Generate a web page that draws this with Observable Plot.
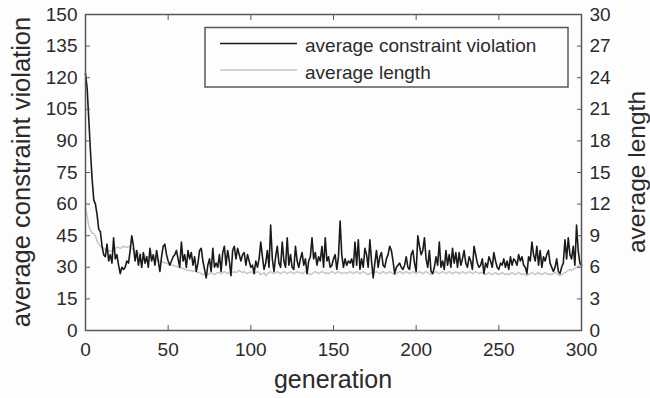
<!DOCTYPE html>
<html>
<head>
<meta charset="utf-8">
<script src="https://cdn.jsdelivr.net/npm/d3@7"></script>
<script src="https://cdn.jsdelivr.net/npm/@observablehq/plot@0.6"></script>
<style>
  html, body { margin: 0; padding: 0; background: #fdfdfd; }
  #chart { width: 650px; height: 398px; }
</style>
</head>
<body>
<div id="chart"></div>
<script>
// ---- data ----
const violationTicks = [0, 15, 30, 45, 60, 75, 90, 105, 120, 135, 150];
const lengthTicks = [0, 3, 6, 9, 12, 15, 18, 21, 24, 27, 30];
const generationTicks = [0, 50, 100, 150, 200, 250, 300];

// average constraint violation, generations 0..300 (left axis)
const violation = [
  122,115,100,85,72,62,60,55,48,47,40,
  36,35,41,33,36,32,44,34,36,31,
  27,30,29,30,33,32,38,45,40,33,
  38,31,36,30,37,32,35,30,39,33,
  36,31,38,33,28,35,40,41,36,33,
  31,33,35,36,38,34,30,42,33,36,
  30,38,34,37,31,35,28,32,38,39,
  33,29,25,31,34,28,39,30,32,30,
  36,28,37,40,31,38,33,26,38,40,
  34,39,36,33,36,37,31,36,33,30,
  31,27,33,30,34,42,35,29,32,38,
  30,50,34,28,35,40,32,30,42,33,
  30,44,31,36,30,29,40,33,30,34,
  37,31,34,27,33,35,44,34,37,31,
  35,33,40,30,44,33,35,30,31,34,
  36,29,35,52,36,30,34,31,33,32,
  34,30,42,31,43,29,34,30,39,36,
  30,43,33,25,32,38,30,35,37,31,
  30,34,36,40,38,33,27,30,31,32,
  30,29,31,35,30,29,36,38,32,28,
  45,40,36,38,44,34,30,38,28,27,
  30,35,31,42,30,33,29,38,31,36,
  30,39,32,37,30,37,31,34,38,32,
  30,35,33,29,40,36,32,30,31,34,
  27,32,30,35,33,30,37,33,30,29,
  32,31,34,30,33,29,35,31,34,33,
  31,36,33,35,31,30,27,35,33,42,
  36,33,40,31,38,30,35,33,36,38,
  32,30,28,30,34,28,27,30,32,43,
  34,44,36,34,40,31,50,38,32,31
];

// average length, generations 0..300 (right axis)
const avgLength = [
  11.6,10.9,9.9,9.5,9.3,9.2,9.0,8.5,8.2,8.0,7.9,
  7.8,7.7,7.6,7.6,7.5,7.6,7.7,7.8,7.9,7.9,
  7.8,7.9,8.0,7.9,7.9,8.0,7.9,7.8,7.6,7.5,
  7.4,7.3,7.3,7.2,7.2,7.1,7.0,7.0,6.9,6.9,
  6.8,6.8,6.7,6.6,6.6,6.5,6.5,6.4,6.4,6.3,
  6.3,6.2,6.2,6.1,6.1,6.0,6.0,5.9,5.9,5.8,
  5.8,5.7,5.7,5.7,5.6,5.7,5.6,5.5,5.5,5.4,
  5.3,5.3,5.4,5.3,5.4,5.5,5.4,5.3,5.4,5.5,
  5.5,5.4,5.5,5.6,5.5,5.4,5.5,5.6,5.5,5.6,
  5.5,5.6,5.7,5.6,5.5,5.6,5.5,5.4,5.5,5.6,
  5.5,5.4,5.5,5.6,5.5,5.3,5.4,5.5,5.2,5.4,
  5.5,5.6,5.5,5.4,5.5,5.6,5.5,5.4,5.5,5.6,
  5.5,5.4,5.5,5.6,5.5,5.4,5.5,5.6,5.5,5.5,
  5.4,5.5,5.6,5.5,5.4,5.3,5.4,5.5,5.6,5.5,
  5.4,5.5,5.6,5.5,5.4,5.5,5.4,5.5,5.6,5.5,
  5.4,5.5,5.6,5.5,5.4,5.5,5.5,5.4,5.5,5.6,
  5.5,5.4,5.5,5.6,5.5,5.4,5.5,5.6,5.5,5.4,
  5.3,5.4,5.5,5.4,5.5,5.6,5.5,5.4,5.5,5.6,
  5.5,5.4,5.5,5.6,5.5,5.4,5.3,5.4,5.5,5.6,
  5.5,5.4,5.5,5.6,5.5,5.4,5.5,5.6,5.5,5.4,
  5.5,5.6,5.5,5.4,5.5,5.6,5.5,5.4,5.3,5.4,
  5.5,5.6,5.5,5.4,5.5,5.6,5.5,5.4,5.5,5.6,
  5.5,5.4,5.5,5.6,5.5,5.4,5.5,5.6,5.5,5.4,
  5.5,5.6,5.5,5.4,5.5,5.6,5.5,5.4,5.5,5.5,
  5.4,5.3,5.4,5.5,5.4,5.3,5.4,5.5,5.4,5.3,
  5.4,5.5,5.4,5.3,5.4,5.3,5.4,5.5,5.4,5.3,
  5.4,5.5,5.4,5.3,5.4,5.3,5.2,5.3,5.4,5.5,
  5.4,5.3,5.4,5.5,5.4,5.3,5.4,5.5,5.4,5.3,
  5.4,5.3,5.4,5.5,5.4,5.3,5.2,5.3,5.4,5.5,
  5.6,5.7,5.8,5.7,5.8,5.9,6.0,6.1,6.2,6.3
];

const seriesNames = ["average constraint violation", "average length"];
const axisTitles = { x: "generation", yLeft: "average constraint violation", yRight: "average length" };

// ---- build ----
const generations = violation.map((_, i) => i);
const ratio = 150 / 30; // left-axis units per right-axis unit

const W = 650, H = 398;
const mL = 85, mR = 69, mT = 14, mB = 68;
const font = "'Liberation Sans', Arial, Helvetica, sans-serif";
const ink = "#2b2b2b";
const frameColor = "#595959";

const chart = Plot.plot({
  width: W, height: H,
  marginLeft: mL, marginRight: mR, marginTop: mT, marginBottom: mB,
  style: { fontFamily: font, fontSize: "19px", background: "#fdfdfd", color: ink, overflow: "visible" },
  x: { domain: [0, 300] },
  y: { domain: [0, 150] },
  marks: [
    Plot.line(generations, { x: d => d, y: d => avgLength[d] * ratio, stroke: "#c6c6c6", strokeWidth: 1.5 }),
    Plot.line(generations, { x: d => d, y: d => violation[d], stroke: "#1a1a1a", strokeWidth: 1.6 }),
    Plot.axisX(generationTicks, { anchor: "bottom", tickSize: -5, tickPadding: 17, stroke: frameColor, fill: ink, label: null }),
    Plot.axisX(generationTicks, { anchor: "top", tickSize: -5, text: null, stroke: frameColor, label: null }),
    Plot.axisY(violationTicks, { anchor: "left", tickSize: -5, tickPadding: 13, stroke: frameColor, fill: ink, label: null }),
    Plot.axisY(lengthTicks.map(t => t * ratio), { anchor: "right", tickSize: -5, tickPadding: 13, tickFormat: d => d / ratio, stroke: frameColor, fill: ink, label: null }),
    Plot.frame({ stroke: frameColor, strokeWidth: 1.5 })
  ]
});

document.getElementById("chart").appendChild(chart);

// axis titles and legend
const svg = d3.select(chart);
const cx = mL + (W - mL - mR) / 2;
const cy = mT + (H - mT - mB) / 2;

svg.append("text")
  .attr("x", cx).attr("y", 388)
  .attr("text-anchor", "middle")
  .attr("font-family", font).attr("font-size", 25).attr("fill", ink)
  .text(axisTitles.x);

svg.append("text")
  .attr("transform", `translate(30,${cy}) rotate(-90)`)
  .attr("text-anchor", "middle")
  .attr("font-family", font).attr("font-size", 25.5).attr("fill", ink)
  .text(axisTitles.yLeft);

svg.append("text")
  .attr("transform", `translate(645,${cy}) rotate(-90)`)
  .attr("text-anchor", "middle")
  .attr("font-family", font).attr("font-size", 24.5).attr("fill", ink)
  .text(axisTitles.yRight);

const lg = svg.append("g");
lg.append("rect")
  .attr("x", 205).attr("y", 27.5).attr("width", 363).attr("height", 59.5)
  .attr("fill", "#fdfdfd").attr("stroke", frameColor).attr("stroke-width", 1.5);
const legendColors = ["#1a1a1a", "#c6c6c6"];
const legendLineY = [43.5, 70];
const legendTextY = [51.5, 78.5];
seriesNames.forEach((name, i) => {
  lg.append("line")
    .attr("x1", 220).attr("x2", 297)
    .attr("y1", legendLineY[i]).attr("y2", legendLineY[i])
    .attr("stroke", legendColors[i]).attr("stroke-width", 1.5);
  lg.append("text")
    .attr("x", 305).attr("y", legendTextY[i])
    .attr("text-anchor", "start")
    .attr("font-family", font).attr("font-size", 19).attr("fill", ink)
    .text(name);
});
</script>
</body>
</html>
